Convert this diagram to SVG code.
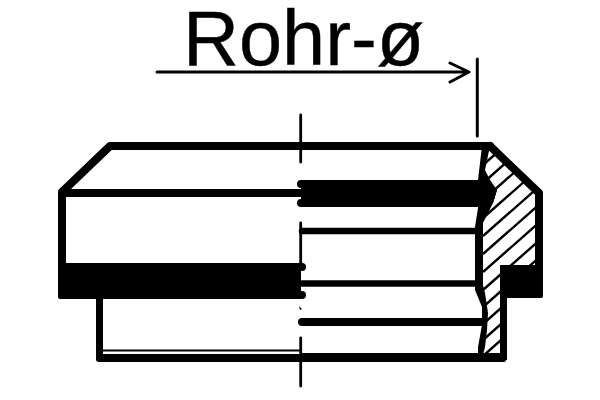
<svg xmlns="http://www.w3.org/2000/svg" width="600" height="400" viewBox="0 0 600 400">
<style>
.k{stroke:#000;fill:none;stroke-linecap:round;stroke-linejoin:round}
.b{fill:#000;stroke:none}
.h{stroke:#000;stroke-width:2.400;fill:none}
text{font-family:"Liberation Sans",Arial,sans-serif;fill:#000;stroke:#000;stroke-width:.4}
</style>
<defs>
<clipPath id="hc"><path d="M488 146H492L541 193V266H500V298H505V358H476V146Z"/></clipPath>
</defs>
<rect width="600" height="400" fill="#fff"/>
<g id="label"><text x="183" y="65" font-size="77.500">Rohr-ø</text></g>
<g id="connectors">
<path class="k" stroke-width="3" d="M157 72H468M450 63L469 72L450 82"/>
<path class="k" stroke-width="3" d="M477.300 59V136"/>
<path class="k" stroke-width="2.800" d="M300.700 115V162M300.700 223V268M300.700 338V386"/>
</g>
<g id="hatch" clip-path="url(#hc)">
<path class="h" d="M483 148L545 93.400M483 165L545 110.400M483 183L545 128.400M483 200L545 145.400M483 218L545 163.400M483 236L545 181.400M483 254L545 199.400M483 272L545 217.400M483 290L545 235.400M483 307L545 252.400M483 324L545 269.400M483 340L545 285.400M483 356L545 301.400"/>
</g>
<g id="body-left">
<path class="k" stroke-width="8" d="M490 146H110L62 192V294M62 193H301"/>
<path class="b" d="M58 263H301V299H60Q58 299 58 297Z"/>
<path class="k" stroke-width="7" d="M99.500 298V358"/>
<path class="b" d="M96 354H301V362H99Q96 362 96 359Z"/>
<path class="b" d="M103 349.500H301V351.500H103Z"/>
<circle class="b" cx="302" cy="267" r="4"/>
<circle class="b" cx="302" cy="295" r="4"/>
</g>
<g id="body-right">
<path class="b" d="M301 180H485L497 190L493 203L488 207H301Z"/>
<circle class="b" cx="301" cy="184" r="4"/>
<circle class="b" cx="301" cy="203" r="4"/>
<path class="k" stroke-width="6.500" d="M302 231H476M302 283.500H476"/>
<path class="k" stroke-width="8" d="M302 322H482"/>
<path class="b" d="M301 353H506V360Q506 362 504 362H301Z"/>
<path class="k" stroke-width="8" d="M490 146L539 193V294"/>
<path class="b" d="M500 265H543V296Q543 298 541 298H500Z"/>
<path class="b" d="M500 298H507V360H500Z"/>
<path class="b" d="M482 146H490L485 170L490 180L497 190L493 203L488 213L483 223V285L485 293L488 313L487 330L485 347L483 355L478 357L478 347L482 325V307L475 290V227L478 208V180Z"/>
</g>
<path class="b" d="M299 306L302 309L300 310Z"/>
</svg>
